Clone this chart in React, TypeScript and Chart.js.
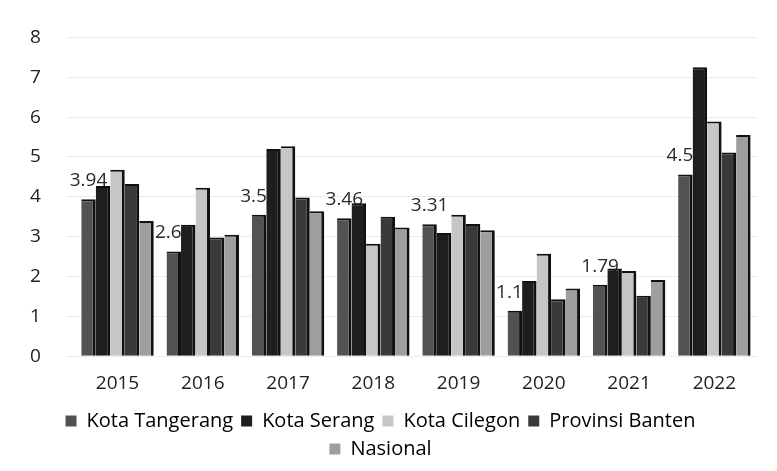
import React, { useEffect, useRef } from "react";
import { Chart, registerables } from "chart.js";

Chart.register(...registerables);

const years = ["2015", "2016", "2017", "2018", "2019", "2020", "2021", "2022"];
const kotaTangerang = [3.94, 2.63, 3.55, 3.46, 3.31, 1.14, 1.79, 4.56];
const kotaSerang = [4.27, 3.3, 5.2, 3.84, 3.09, 1.89, 2.2, 7.25];
const kotaCilegon = [4.68, 4.23, 5.27, 2.82, 3.55, 2.57, 2.14, 5.89];
const provinsiBanten = [4.32, 2.98, 3.98, 3.5, 3.32, 1.43, 1.52, 5.11];
const nasional = [3.39, 3.05, 3.64, 3.23, 3.16, 1.7, 1.91, 5.55];
const yTicks = [0, 1, 2, 3, 4, 5, 6, 7, 8];

const FONT = "'Open Sans', 'Noto Sans', sans-serif";

const labelPlugin = {
  id: "tangerangLabels",
  beforeDatasetsDraw(chart: any) {
    const ctx = chart.ctx;
    const meta = chart.getDatasetMeta(0);
    ctx.save();
    ctx.fillStyle = "#2a2a2a";
    ctx.font = `19px ${FONT}`;
    ctx.textAlign = "center";
    ctx.textBaseline = "bottom";
    meta.data.forEach((bar: any, i: number) => {
      ctx.fillText(String(kotaTangerang[i]), bar.x, bar.y - 9);
    });
    ctx.restore();
  },
};

export default function App() {
  const ref = useRef<HTMLCanvasElement>(null);
  useEffect(() => {
    const edge = "#111";
    const mk = (label: string, data: number[], color: string) => ({
      label,
      data,
      backgroundColor: color,
      borderColor: edge,
      borderWidth: { top: 2, right: 3, left: 0, bottom: 0 },
      borderSkipped: false,
    });
    const chart = new Chart(ref.current!, {
      type: "bar",
      data: {
        labels: years,
        datasets: [
          mk("Kota Tangerang", kotaTangerang, "#525252"),
          mk("Kota Serang", kotaSerang, "#1e1e1e"),
          mk("Kota Cilegon", kotaCilegon, "#c6c6c6"),
          mk("Provinsi Banten", provinsiBanten, "#3a3a3a"),
          mk("Nasional", nasional, "#9e9e9e"),
        ] as any,
      },
      options: {
        animation: false,
        responsive: false,
        maintainAspectRatio: false,
        layout: { padding: { left: 4, right: 20, top: 14, bottom: 2 } },
        datasets: { bar: { categoryPercentage: 0.85, barPercentage: 1 } },
        scales: {
          x: {
            grid: { display: false },
            border: { display: false },
            ticks: { color: "#222", font: { family: FONT, size: 19 }, padding: 8 },
          },
          y: {
            min: 0,
            max: 8,
            afterBuildTicks: (axis: any) => {
              axis.ticks = yTicks.map((v) => ({ value: v }));
            },
            grid: { color: "#ebebeb", lineWidth: 1 },
            border: { display: false },
            ticks: { color: "#222", font: { family: FONT, size: 19 }, padding: 26 },
          },
        },
        plugins: {
          legend: {
            position: "bottom",
            labels: {
              boxWidth: 11,
              boxHeight: 11,
              padding: 8,
              color: "#222",
              font: { family: FONT, size: 20 },
              generateLabels: (chart: any) =>
                chart.data.datasets.map((d: any, i: number) => ({
                  text: d.label,
                  fillStyle: d.backgroundColor,
                  strokeStyle: d.backgroundColor,
                  lineWidth: 0,
                  datasetIndex: i,
                  hidden: false,
                })),
            },
          },
          tooltip: { enabled: false },
        },
      },
      plugins: [labelPlugin],
    });
    return () => chart.destroy();
  }, []);
  return (
    <div style={{ position: "fixed", left: 0, top: 0, width: 777, height: 471, background: "#fff" }}>
      <canvas ref={ref} width={777} height={471} />
    </div>
  );
}
